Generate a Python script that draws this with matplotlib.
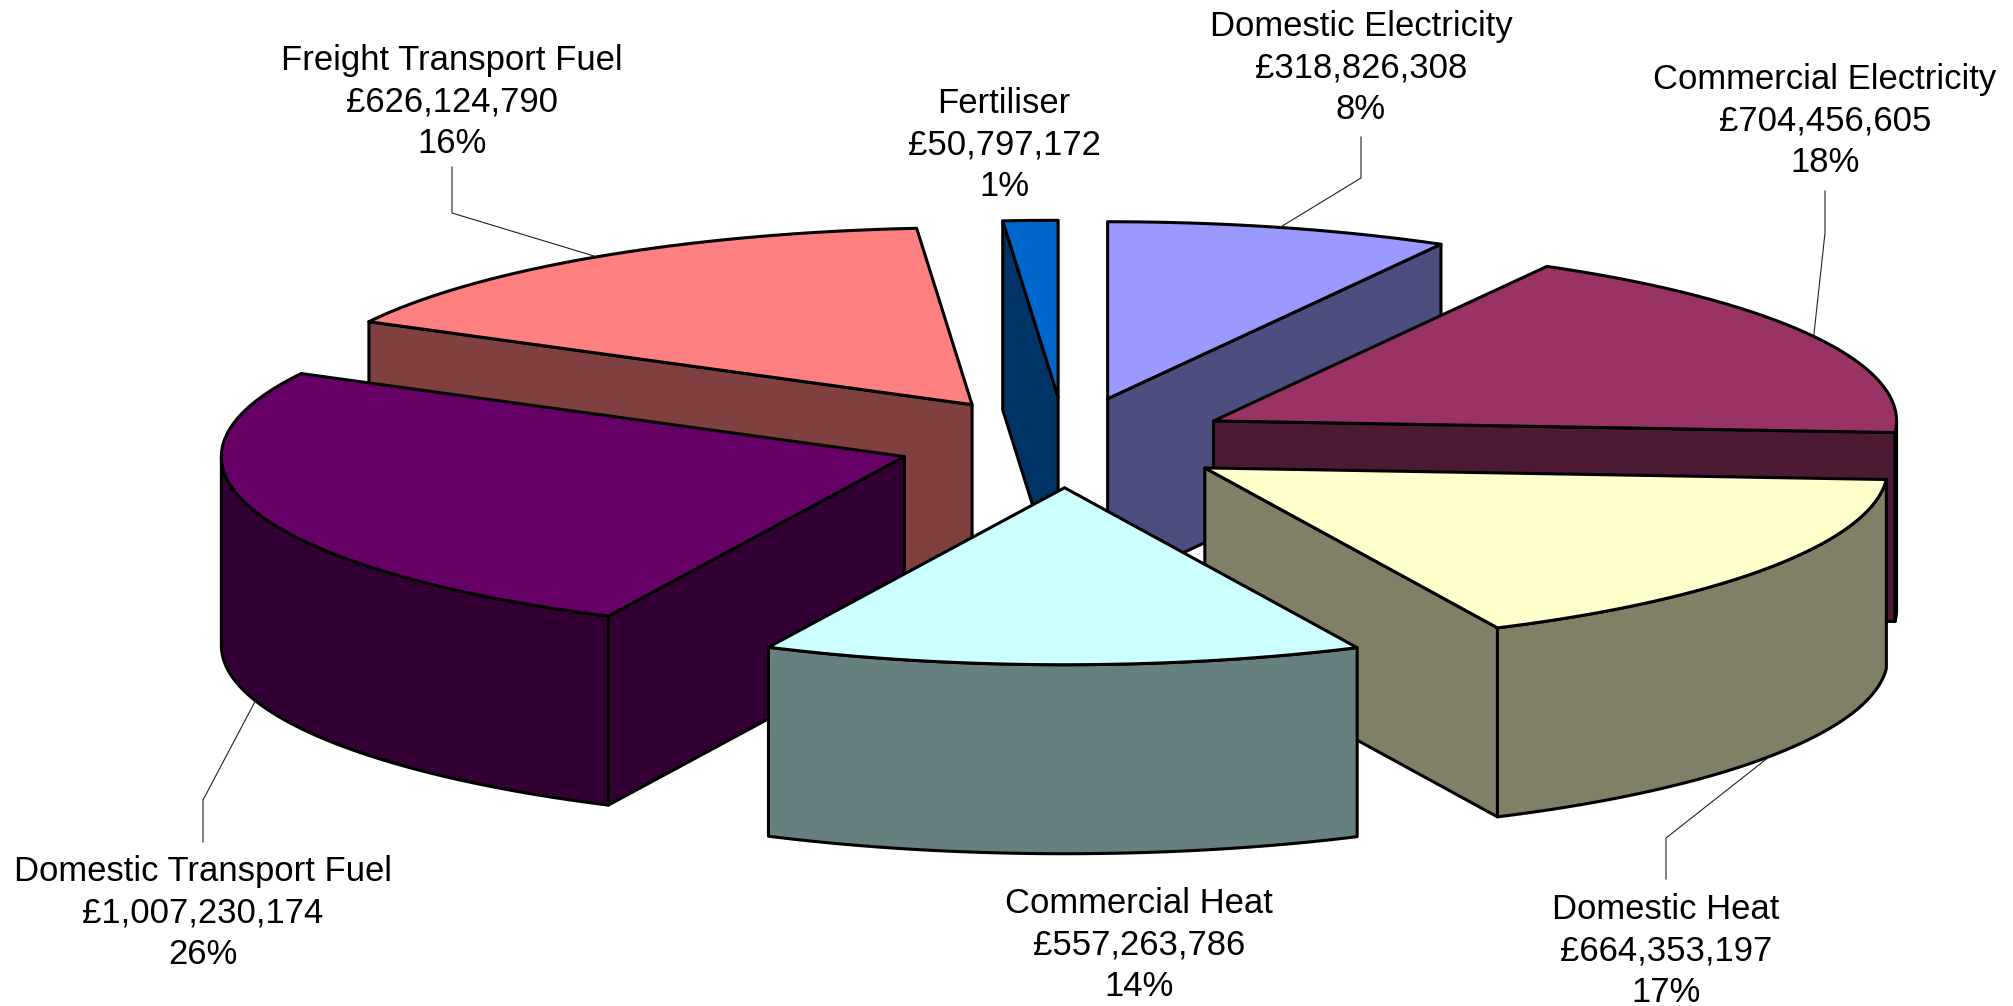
"""Exploded 3D-look pie of energy spend, drawn by hand as polygons (pixel axes)."""
import numpy as np
import matplotlib
matplotlib.use("Agg")
import matplotlib.pyplot as plt
from matplotlib.patches import Polygon

# clockwise from 12 o'clock
names = ["Domestic Electricity", "Commercial Electricity", "Domestic Heat",
         "Commercial Heat", "Domestic Transport Fuel", "Freight Transport Fuel",
         "Fertiliser"]
values = [318826308, 704456605, 664353197, 557263786, 1007230174, 626124790, 50797172]
top_colors = ["#9999FF", "#993366", "#FFFFCC", "#CCFFFF", "#660066", "#FF8080", "#0066CC"]
side_colors = ["#4D4D80", "#4D1A33", "#808066", "#668080", "#330033", "#804040", "#003366"]

# pie geometry, in pixels
CX, CY = 1065, 442.5
RX, RY = 683, 177
DEPTH = 189
EXPLODE_X, EXPLODE_Y = 0.2475, 0.2555
EDGE = 2.2
paint_order = [6, 0, 5, 1, 4, 2, 3]

# label centre (x, y of middle line) and leader bits (end, elbow), same order as names
label_pos = [(1361, 68), (1825, 121), (1666, 951), (1139, 945), (203, 913), (452, 102), (1004, 145)]
leaders = [((1361, 137), (1361, 178)), ((1825, 191), (1825, 233)), ((1666, 879), (1666, 838)),
           None, ((203, 842), (203, 800)), ((452, 167), (452, 213)), None]

plt.rcParams["font.family"] = ["Liberation Sans", "DejaVu Sans"]


def rim(ang):
    return np.sin(ang) * RX, -np.cos(ang) * RY


def add_face(ax, pts, color):
    ax.add_patch(Polygon(pts, closed=True, facecolor=color, edgecolor="black",
                         linewidth=EDGE, joinstyle="round"))


def apex(mid):
    return CX + EXPLODE_X * RX * np.sin(mid), CY - EXPLODE_Y * RY * np.cos(mid)


def draw_slice(ax, a, b, top, side):
    ox, oy = apex((a + b) / 2)

    def point(ang):
        dx, dy = rim(ang)
        return ox + dx, oy + dy

    # radial walls, only the ones turned towards the viewer
    for ang, normal in ((a, a - np.pi / 2), (b, b + np.pi / 2)):
        if np.cos(normal) < 0:
            x, y = point(ang)
            add_face(ax, [(ox, oy), (x, y), (x, y + DEPTH), (ox, oy + DEPTH)], side)

    # outer wall, front half of the ellipse only
    lo, hi = max(a, np.pi / 2), min(b, 3 * np.pi / 2)
    if hi > lo:
        ts = np.linspace(lo, hi, 100)
        xs, ys = point(ts)
        upper = np.column_stack([xs, ys])
        lower = np.column_stack([xs, ys + DEPTH])[::-1]
        add_face(ax, np.vstack([upper, lower]), side)

    ts = np.linspace(a, b, 200)
    xs, ys = point(ts)
    add_face(ax, np.vstack([[ox, oy], np.column_stack([xs, ys])]), top)


def main():
    fig = plt.figure(figsize=(20.13, 10.06), dpi=100)
    ax = fig.add_axes([0, 0, 1, 1])
    ax.set_xlim(0, 2013)
    ax.set_ylim(1006, 0)
    ax.axis("off")

    total = sum(values)
    edges = np.concatenate([[0], np.cumsum(values)]) / total * 2 * np.pi

    # leaders go under the pie, they stop at the rim anyway
    for i, leg in enumerate(leaders):
        if leg is None:
            continue
        mid = (edges[i] + edges[i + 1]) / 2
        ox, oy = apex(mid)
        dx, dy = rim(mid)
        y = oy + dy + (DEPTH if np.cos(mid) < 0 else 0)
        ax.plot([leg[0][0], leg[1][0], ox + dx], [leg[0][1], leg[1][1], y],
                color="#222222", lw=0.8, solid_joinstyle="miter")

    for i in paint_order:
        draw_slice(ax, edges[i], edges[i + 1], top_colors[i], side_colors[i])

    for name, val, (x, y) in zip(names, values, label_pos):
        pct = round(val / total * 100)
        ax.text(x, y, f"{name}\n£{val:,}\n{pct}%", ha="center", va="center",
                fontsize=24.9, color="black", linespacing=1.33)

    fig.savefig("out.png", dpi=100)


if __name__ == "__main__":
    main()
